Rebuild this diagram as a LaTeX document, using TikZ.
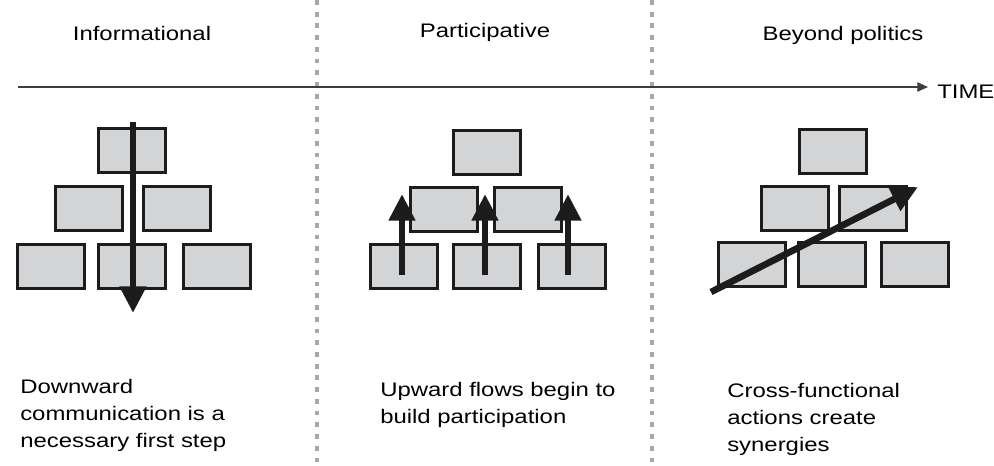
\documentclass[tikz,border=0pt]{standalone}
\usepackage{fontspec}
\setmainfont{Liberation Sans}[FakeStretch=1.22]
\usetikzlibrary{arrows.meta}
\definecolor{boxgray}{RGB}{210,212,213}
\definecolor{dotgray}{RGB}{168,168,168}
\definecolor{inkblack}{RGB}{28,28,28}
\begin{document}
\begin{tikzpicture}[x=0.75pt, y=-0.75pt,
	every node/.style = {font=\fontsize{14.7}{20.3}\selectfont, inner sep=0pt},
	orgbox/.style = {shape=rectangle, draw=inkblack, line width=2.25pt,
		fill=boxgray, minimum width=50.25pt, minimum height=33pt},
	flow/.style = {draw=inkblack, fill=inkblack, line width=5pt,
		-{Triangle[width=19pt, length=20pt]}},
	divider/.style = {draw=dotgray, line width=3.6pt, dash pattern=on 3.6pt off 5.2pt}]
	\useasboundingbox (0,0) rectangle (994,465);
	% phase dividers
	\coordinate (d1top) at (317,0);  \coordinate (d1bot) at (317,465);
	\coordinate (d2top) at (652,0);  \coordinate (d2bot) at (652,465);
	\draw[divider] (d1top) -- (d1bot);
	\draw[divider] (d2top) -- (d2bot);
	% time axis
	\coordinate (t0) at (18,87);
	\coordinate (t1) at (928,87);
	\draw[draw=inkblack!85, line width=1.2pt, -{Triangle[width=7pt, length=8pt]}] (t0) -- (t1);
	\node (time) [anchor=base west] at (937,98) {TIME};
	% phase titles
	\node (info) [anchor=base] at (142,40) {Informational};
	\node (part) [anchor=base] at (485,37) {Participative};
	\node (beyond) [anchor=base] at (843,40) {Beyond politics};
	% informational
	\node (i1) [orgbox] at (132,150.5) {};
	\node (i2) [orgbox] at (88.5,208.5) {};
	\node (i3) [orgbox] at (177,208.5) {};
	\node (i4) [orgbox] at (50.5,266.5) {};
	\node (i5) [orgbox] at (132,266.5) {};
	\node (i6) [orgbox] at (217,266.5) {};
	\coordinate (down0) at (133,122);
	\coordinate (down1) at (133,313);
	\draw[flow] (down0) -- (down1);
	% participative
	\node (p1) [orgbox] at (487,152) {};
	\node (p2) [orgbox] at (444,209) {};
	\node (p3) [orgbox] at (527.5,209) {};
	\node (p4) [orgbox] at (404,266) {};
	\node (p5) [orgbox] at (487,266) {};
	\node (p6) [orgbox] at (572,266) {};
	\foreach \x/\n in {402/a, 485/b, 568/c} {
		\coordinate (up0\n) at (\x,275);
		\coordinate (up1\n) at (\x,194);
		\draw[flow] (up0\n) -- (up1\n);
	}
	% beyond politics
	\node (b1) [orgbox] at (832.5,151.5) {};
	\node (b2) [orgbox] at (794.5,208) {};
	\node (b3) [orgbox] at (872.5,208) {};
	\node (b4) [orgbox] at (752,264.5) {};
	\node (b5) [orgbox] at (832,264.5) {};
	\node (b6) [orgbox] at (915,264.5) {};
	\coordinate (cross0) at (711,292);
	\coordinate (cross1) at (918,187);
	\draw[flow] (cross0) -- (cross1);
	% captions
	\node (infotext) [anchor=north west, align=left] at (20,379)
		{Downward\\communication is a\\necessary first step};
	\node (parttext) [anchor=north west, align=left] at (380,382)
		{Upward flows begin to\\build participation};
	\node (beyondtext) [anchor=north west, align=left] at (727,383)
		{Cross-functional\\actions create\\synergies};
\end{tikzpicture}
\end{document}
